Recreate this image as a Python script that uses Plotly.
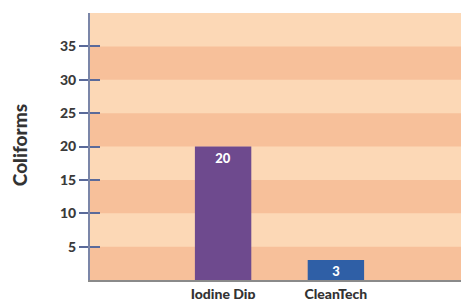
import plotly.graph_objects as go

categories = ["Iodine Dip", "CleanTech"]
values = [20, 3]
bar_colors = ["#6E4A8E", "#2F5FA6"]
y_ticks = [5, 10, 15, 20, 25, 30, 35]
dark_bands = [(0, 5), (10, 15), (20, 25), (30, 35)]
y_title = "Coliforms"

FONT = "Lato"

fig = go.Figure()
fig.add_trace(go.Bar(
    x=categories, y=values, marker=dict(color=bar_colors, line=dict(width=0)),
    width=0.5, text=[str(v) for v in values], textposition="inside",
    insidetextanchor="end", textangle=0, constraintext="none",
    textfont=dict(color="white", size=13, family=FONT, weight=900),
    cliponaxis=False, showlegend=False,
))
# invisible trace on overlaid axis for inner tick marks
fig.add_trace(go.Scatter(x=categories, y=values, yaxis="y2", mode="none",
                         showlegend=False, hoverinfo="skip"))

for lo, hi in dark_bands:
    fig.add_shape(type="rect", xref="paper", x0=0, x1=1, yref="y", y0=lo, y1=hi,
                  fillcolor="#F7C09A", line=dict(width=0), layer="below")

fig.add_annotation(text=y_title, xref="paper", yref="paper", x=0, y=0.505,
                   xanchor="center", yanchor="middle", xshift=-71, textangle=-90,
                   showarrow=False,
                   font=dict(size=19, family=FONT, weight=900, color="#333333"))

fig.update_layout(
    width=461, height=291,
    margin=dict(l=82, r=0, t=5, b=19),
    paper_bgcolor="white", plot_bgcolor="#FCD8B6",
    font=dict(family=FONT, color="#333333"),
    bargap=0.5,
    xaxis=dict(
        type="category", range=[-1.18, 2.18], showgrid=False, zeroline=False,
        showline=True, linecolor="#8A8A8A", linewidth=2, automargin=False,
        ticks="", ticklen=0,
        tickfont=dict(size=14, family=FONT, weight=900, color="#333333"),
    ),
    yaxis=dict(
        range=[0, 40], tickvals=y_ticks, showgrid=False, zeroline=False,
        showline=True, linecolor="#7B86A8", linewidth=2, automargin=False,
        ticks="outside", ticklen=9, tickwidth=1.5, tickcolor="#5A6A9A",
        tickfont=dict(size=14, family=FONT, weight=900, color="#3A3A3A"),
    ),
    yaxis2=dict(
        range=[0, 40], tickvals=y_ticks, overlaying="y", side="left",
        showgrid=False, zeroline=False, showline=False, showticklabels=False,
        automargin=False,
        ticks="inside", ticklen=10, tickwidth=1.5, tickcolor="#5A6A9A",
    ),
)

fig.write_html("out.html")
